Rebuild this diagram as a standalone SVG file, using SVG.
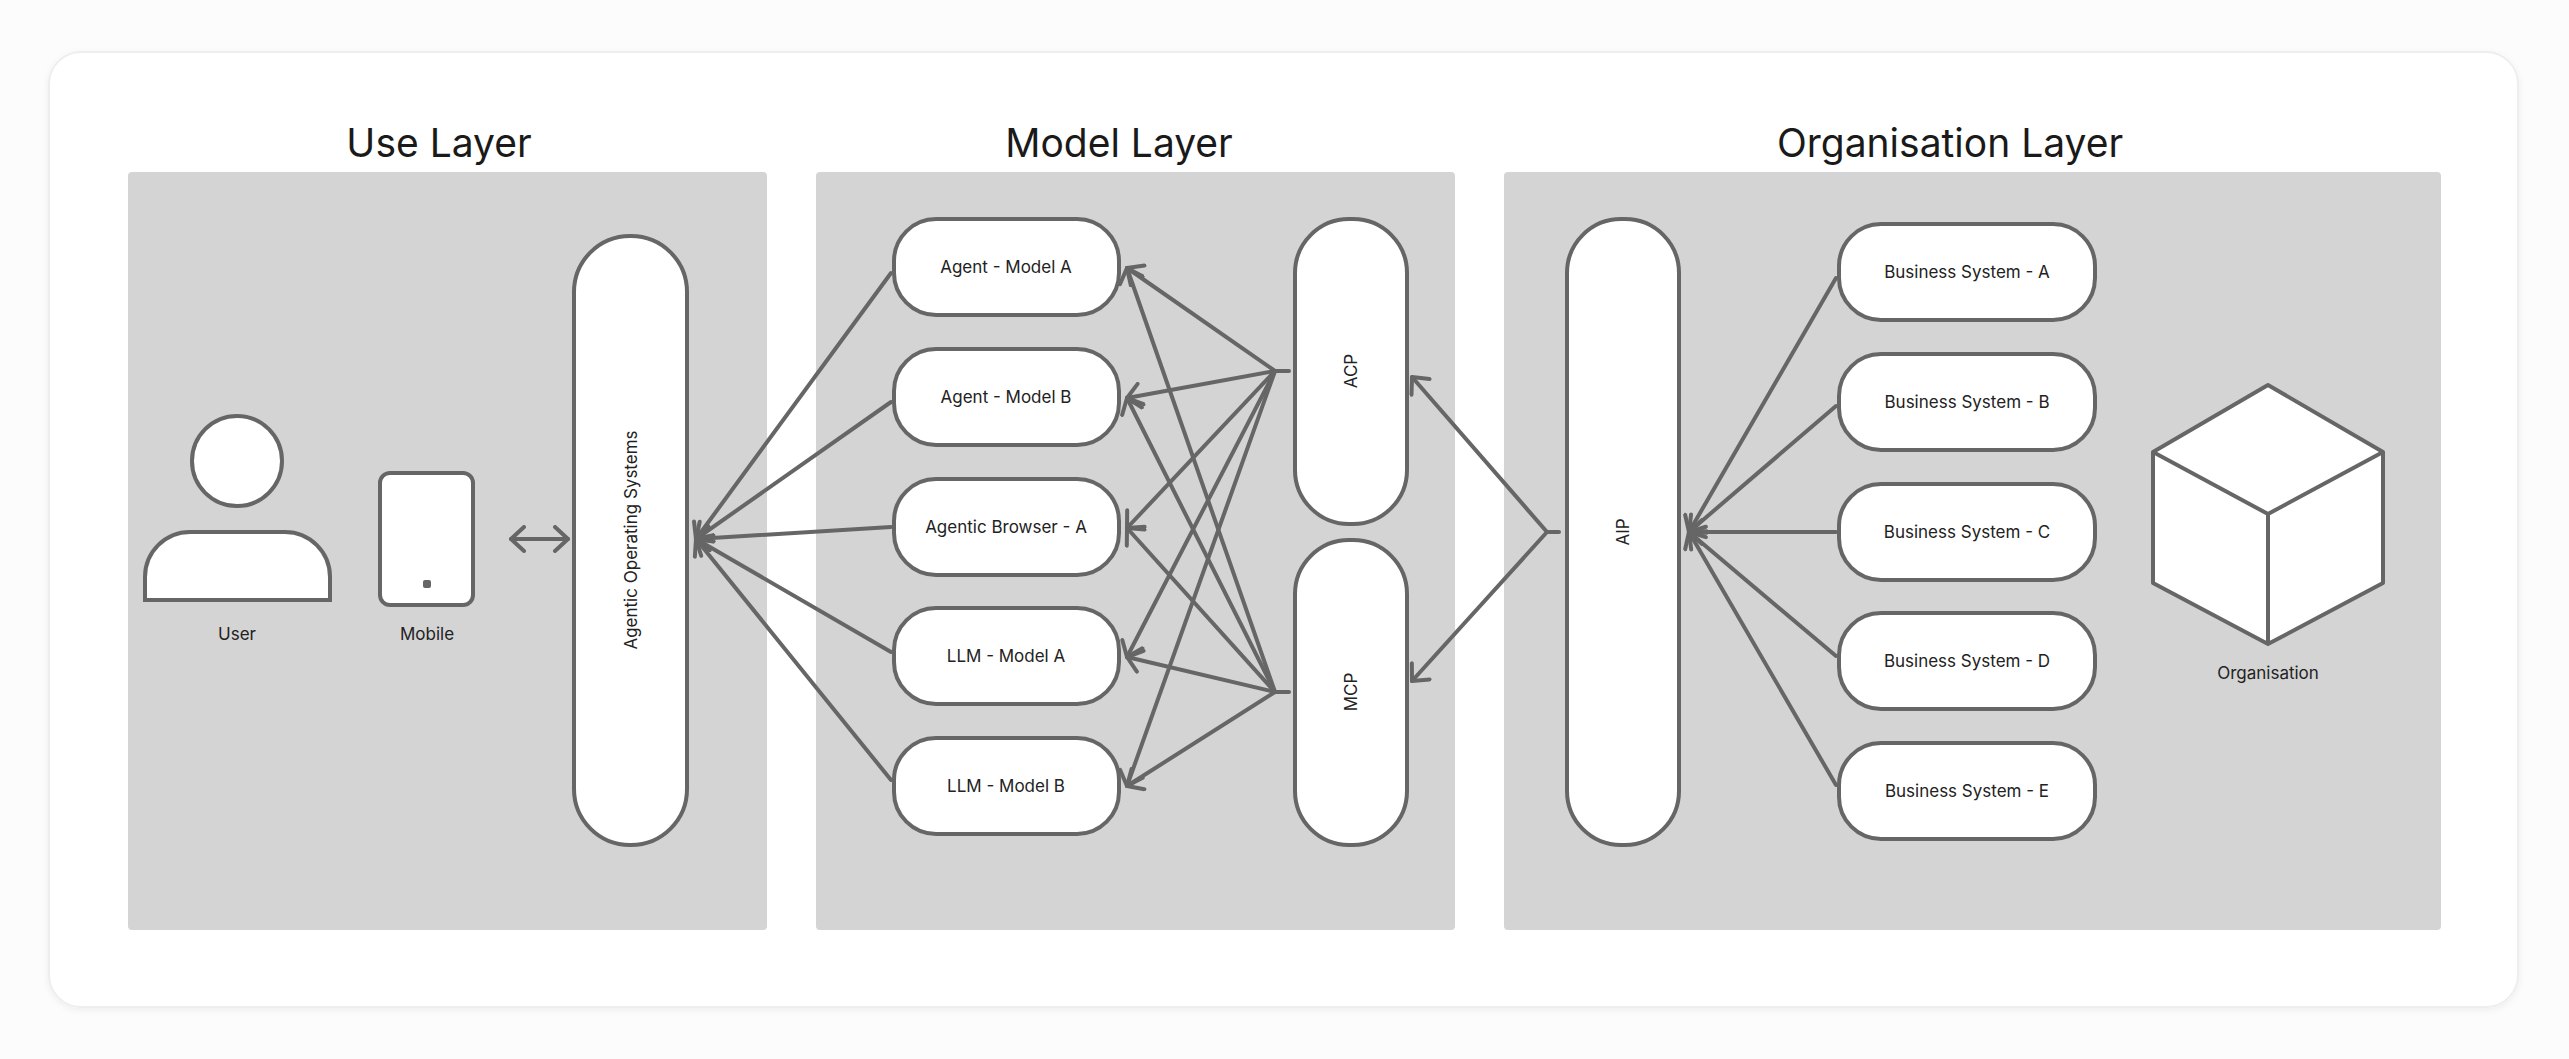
<svg xmlns="http://www.w3.org/2000/svg" width="2569" height="1059" viewBox="0 0 2569 1059">
<style>
.panel{fill:#d4d4d4}
.box{fill:#fff;stroke:#666;stroke-width:4}
.t{font-family:Inter,"Liberation Sans",sans-serif;font-size:17px;fill:#222;text-anchor:middle;dominant-baseline:central}
.h{font-family:Inter,"Liberation Sans",sans-serif;font-size:39px;fill:#1a1a1a;text-anchor:middle}
.c line,.c path{stroke:#666;stroke-width:4;fill:none;stroke-linecap:round}
</style>
<defs>
<marker id="a" viewBox="0 0 28 28" refX="16" refY="14" markerWidth="28" markerHeight="28" markerUnits="userSpaceOnUse" orient="auto-start-reverse">
<path d="M3,2 L16,14 L3,26" fill="none" stroke="#666" stroke-width="4" stroke-linecap="round" stroke-linejoin="round"/>
</marker>
<filter id="sh" x="-5%" y="-5%" width="110%" height="110%"><feDropShadow dx="0" dy="2" stdDeviation="3" flood-color="#000" flood-opacity="0.06"/></filter>
</defs>
<rect width="2569" height="1059" fill="#fcfcfc"/>
<rect x="49" y="52" width="2469" height="955" rx="32" fill="#fff" stroke="#eeeeee" stroke-width="2" filter="url(#sh)"/>
<rect class="panel" x="128" y="172" width="639" height="758" rx="4"/>
<rect class="panel" x="816" y="172" width="639" height="758" rx="4"/>
<rect class="panel" x="1504" y="172" width="937" height="758" rx="4"/>
<text class="h" x="439" y="157">Use Layer</text>
<text class="h" x="1119" y="157">Model Layer</text>
<text class="h" x="1950" y="157">Organisation Layer</text>
<g class="c" id="connectors">
<line x1="511" y1="539" x2="568" y2="539" marker-start="url(#a)" marker-end="url(#a)"/>
<line x1="891" y1="273" x2="696" y2="539" marker-end="url(#a)"/>
<line x1="891" y1="402" x2="696" y2="539" marker-end="url(#a)"/>
<line x1="891" y1="527" x2="696" y2="539" marker-end="url(#a)"/>
<line x1="891" y1="652" x2="696" y2="539" marker-end="url(#a)"/>
<line x1="891" y1="780" x2="696" y2="539" marker-end="url(#a)"/>
<line x1="1289" y1="371" x2="1275" y2="371"/>
<line x1="1289" y1="692" x2="1275" y2="692"/>
<line x1="1275" y1="371" x2="1127" y2="268" marker-end="url(#a)"/>
<line x1="1275" y1="371" x2="1127" y2="398" marker-end="url(#a)"/>
<line x1="1275" y1="371" x2="1127" y2="528" marker-end="url(#a)"/>
<line x1="1275" y1="371" x2="1127" y2="657" marker-end="url(#a)"/>
<line x1="1275" y1="371" x2="1127" y2="786" marker-end="url(#a)"/>
<line x1="1275" y1="692" x2="1127" y2="268" marker-end="url(#a)"/>
<line x1="1275" y1="692" x2="1127" y2="398" marker-end="url(#a)"/>
<line x1="1275" y1="692" x2="1127" y2="528" marker-end="url(#a)"/>
<line x1="1275" y1="692" x2="1127" y2="657" marker-end="url(#a)"/>
<line x1="1275" y1="692" x2="1127" y2="786" marker-end="url(#a)"/>
<line x1="1559" y1="532" x2="1547" y2="532"/>
<line x1="1547" y1="532" x2="1412" y2="377" marker-end="url(#a)"/>
<line x1="1547" y1="532" x2="1412" y2="681" marker-end="url(#a)"/>
<line x1="1836" y1="278" x2="1689" y2="532" marker-end="url(#a)"/>
<line x1="1836" y1="406" x2="1689" y2="532" marker-end="url(#a)"/>
<line x1="1836" y1="532" x2="1689" y2="532" marker-end="url(#a)"/>
<line x1="1836" y1="656" x2="1689" y2="532" marker-end="url(#a)"/>
<line x1="1836" y1="785" x2="1689" y2="532" marker-end="url(#a)"/>
</g>
<g id="user">
<circle class="box" cx="237" cy="461" r="45"/>
<path class="box" d="M145,600 L145,577 A45,45 0 0 1 190,532 L285,532 A45,45 0 0 1 330,577 L330,600 Z"/>
<text class="t" x="237" y="634">User</text>
</g>
<g id="mobile">
<rect class="box" x="380" y="473" width="93" height="132" rx="10"/>
<rect x="423" y="580" width="8" height="8" rx="2" fill="#666"/>
<text class="t" x="427" y="634">Mobile</text>
</g>
<g id="aos">
<rect class="box" x="574" y="236" width="113" height="609" rx="56"/>
<text class="t" transform="translate(631,540) rotate(-90)">Agentic Operating Systems</text>
</g>
<g id="agentA"><rect class="box" x="894" y="219" width="225" height="96" rx="42"/><text class="t" x="1006" y="267">Agent  - Model A</text></g>
<g id="agentB"><rect class="box" x="894" y="349" width="225" height="96" rx="42"/><text class="t" x="1006" y="397">Agent  - Model B</text></g>
<g id="browserA"><rect class="box" x="894" y="479" width="225" height="96" rx="42"/><text class="t" x="1006" y="527">Agentic Browser - A</text></g>
<g id="llmA"><rect class="box" x="894" y="608" width="225" height="96" rx="42"/><text class="t" x="1006" y="656">LLM - Model A</text></g>
<g id="llmB"><rect class="box" x="894" y="738" width="225" height="96" rx="42"/><text class="t" x="1006" y="786">LLM - Model B</text></g>
<g id="acp"><rect class="box" x="1295" y="219" width="112" height="305" rx="54"/><text class="t" transform="translate(1351,371) rotate(-90)">ACP</text></g>
<g id="mcp"><rect class="box" x="1295" y="540" width="112" height="305" rx="54"/><text class="t" transform="translate(1351,692) rotate(-90)">MCP</text></g>
<g id="aip"><rect class="box" x="1567" y="219" width="112" height="626" rx="54"/><text class="t" transform="translate(1623,532) rotate(-90)">AIP</text></g>
<g id="bsA"><rect class="box" x="1839" y="224" width="256" height="96" rx="42"/><text class="t" x="1967" y="272">Business System - A</text></g>
<g id="bsB"><rect class="box" x="1839" y="354" width="256" height="96" rx="42"/><text class="t" x="1967" y="402">Business System - B</text></g>
<g id="bsC"><rect class="box" x="1839" y="484" width="256" height="96" rx="42"/><text class="t" x="1967" y="532">Business System - C</text></g>
<g id="bsD"><rect class="box" x="1839" y="613" width="256" height="96" rx="42"/><text class="t" x="1967" y="661">Business System - D</text></g>
<g id="bsE"><rect class="box" x="1839" y="743" width="256" height="96" rx="42"/><text class="t" x="1967" y="791">Business System - E</text></g>
<g id="organisation">
<path class="box" stroke-linejoin="round" d="M2268,385 L2383,452 L2383,583 L2268,644 L2153,583 L2153,452 Z"/>
<path d="M2153,452 L2268,514 L2383,452 M2268,514 L2268,644" fill="none" stroke="#666" stroke-width="4" stroke-linejoin="round"/>
<text class="t" x="2268" y="673">Organisation</text>
</g>
</svg>
